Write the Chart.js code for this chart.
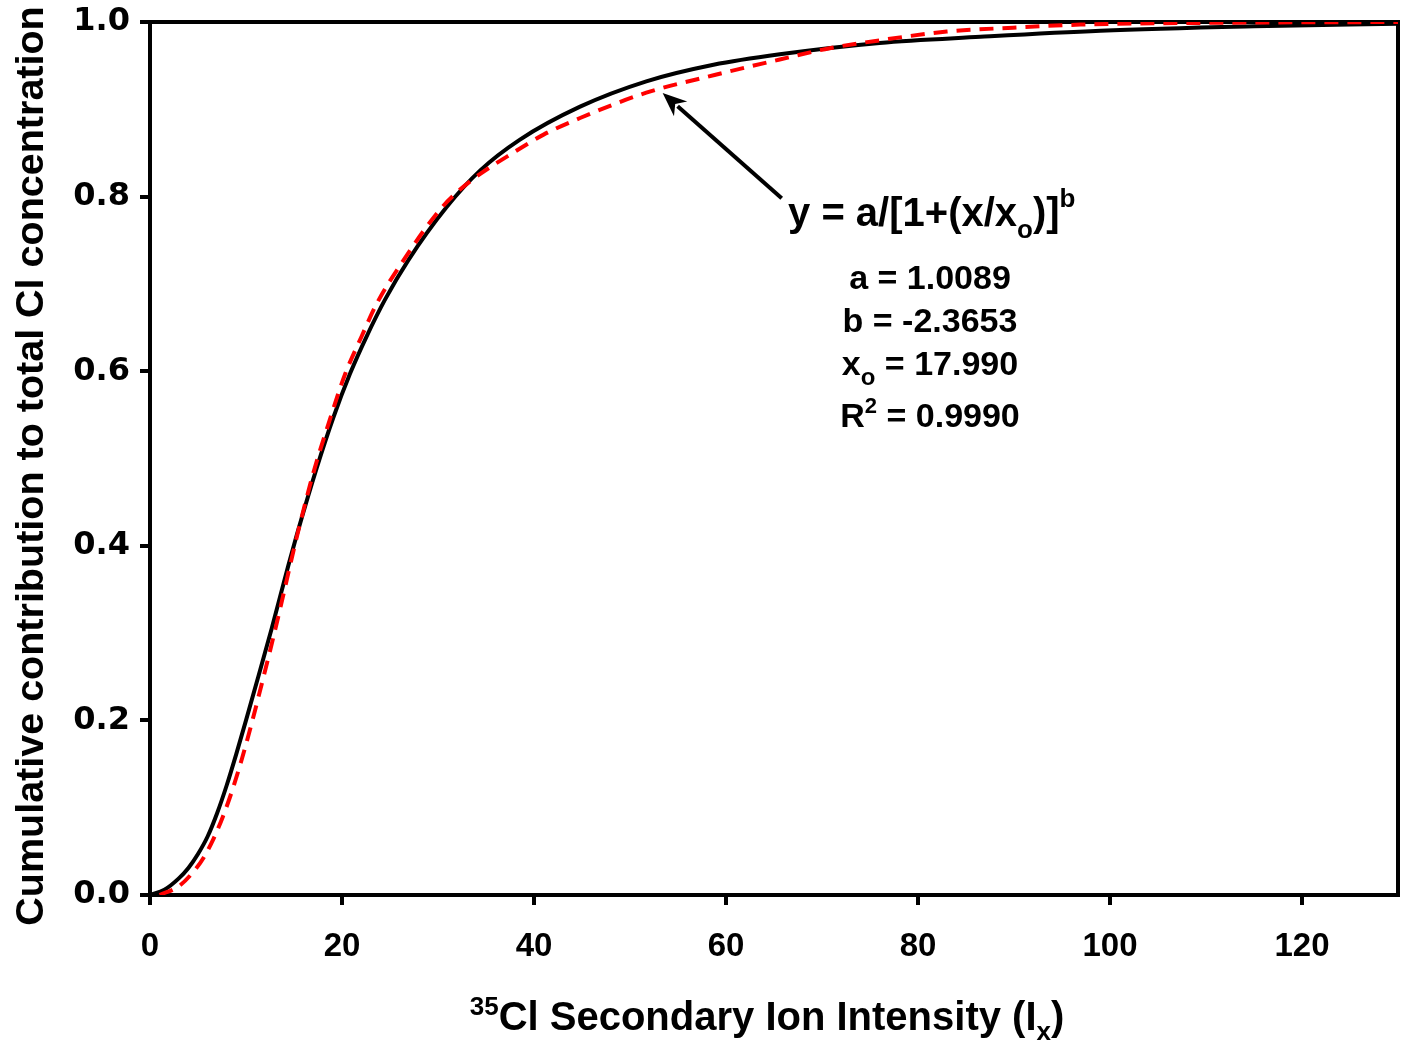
<!DOCTYPE html>
<html><head><meta charset="utf-8">
<script src="https://cdn.jsdelivr.net/npm/chart.js@4.4.1/dist/chart.umd.min.js"></script>
<style>html,body{margin:0;padding:0;background:#fff;}#wrap{width:1404px;height:1042px;}</style>
</head><body><div id="wrap"><canvas id="c" width="1404" height="1042"></canvas></div>
<script>
// Black solid curve (fitted)
const fitX = [0, 1.5, 3.0, 4.0, 5.0, 6.0, 7.0, 8.0, 9.0, 10.0, 11.28, 12.67, 14.4, 15.28, 17.36, 19.1, 20.83, 22.57, 24.48, 26.9, 30.9, 34.4, 38.5, 44.8, 51.7, 58.7, 65.6, 76.0, 86.5, 99, 115, 130];
const fitY = [0, 0.006, 0.019, 0.031, 0.047, 0.067, 0.094, 0.126, 0.162, 0.200, 0.250, 0.305, 0.377, 0.412, 0.489, 0.547, 0.597, 0.640, 0.682, 0.727, 0.788, 0.830, 0.865, 0.903, 0.932, 0.951, 0.963, 0.976, 0.983, 0.990, 0.995, 0.998];
// Red dashed curve
const dataX = [1.0, 3.0, 4.7, 5.6, 6.6, 7.6, 8.6, 9.6, 10.6, 11.6, 12.6, 13.6, 14.6, 15.6, 17.0, 18.6, 20.3, 22.05, 23.6, 26.4, 30.2, 32.3, 34.4, 37.8, 41.0, 44.8, 51.7, 58.7, 65.6, 70.8, 76.0, 83, 89.9, 96.9, 110, 130];
const dataY = [0.0, 0.010, 0.029, 0.043, 0.064, 0.090, 0.121, 0.157, 0.197, 0.240, 0.284, 0.330, 0.378, 0.424, 0.483, 0.540, 0.596, 0.640, 0.677, 0.727, 0.785, 0.808, 0.826, 0.850, 0.871, 0.890, 0.919, 0.939, 0.957, 0.970, 0.979, 0.989, 0.9935, 0.997, 0.999, 1.0];
const xTickValues = [0, 20, 40, 60, 80, 100, 120];
const xTickLabels = ['0', '20', '40', '60', '80', '100', '120'];
const yTickValues = [0, 0.2, 0.4, 0.6, 0.8, 1.0];
const yTickLabels = ['0.0', '0.2', '0.4', '0.6', '0.8', '1.0'];
const fitParams = ['a = 1.0089', 'b = -2.3653', '17.990', '0.9990'];

const F = "'Liberation Sans', Arial, sans-serif";
function rich(ctx, segs, x, y, align) {
  let w = 0;
  for (const s of segs) { ctx.font = 'bold ' + s.size + 'px ' + F; s.w = ctx.measureText(s.t).width; w += s.w; }
  let cx = align === 'center' ? x - w / 2 : x;
  ctx.textBaseline = 'alphabetic'; ctx.textAlign = 'left'; ctx.fillStyle = '#000';
  for (const s of segs) { ctx.font = 'bold ' + s.size + 'px ' + F; ctx.fillText(s.t, cx, y + (s.dy || 0)); cx += s.w; }
}

const textPlugin = {
  id: 'texts',
  afterDraw(chart) {
    const ctx = chart.ctx, xs = chart.scales.x, ys = chart.scales.y;
    ctx.save();
    // Y title
    ctx.save();
    ctx.translate(43, 466);
    ctx.rotate(-Math.PI / 2);
    ctx.font = 'bold 39.5px ' + F; ctx.fillStyle = '#000';
    ctx.textAlign = 'center'; ctx.textBaseline = 'alphabetic';
    ctx.fillText('Cumulative contribution to total Cl concentration', 0, 0);
    ctx.restore();
    // X title
    rich(ctx, [
      { t: '35', size: 26, dy: -15 },
      { t: 'Cl Secondary Ion Intensity (I', size: 40 },
      { t: 'x', size: 26, dy: 10 },
      { t: ')', size: 40 }
    ], 767, 1030, 'center');
    // Arrow (annotation, in data coords)
    const tipX = xs.getPixelForValue(53.4), tipY = ys.getPixelForValue(0.9187);
    const tailX = xs.getPixelForValue(65.8), tailY = ys.getPixelForValue(0.798);
    const ang = Math.atan2(tipY - tailY, tipX - tailX);
    const L = 24, H = 10;
    ctx.strokeStyle = '#000'; ctx.lineWidth = 4; ctx.lineCap = 'butt';
    ctx.beginPath(); ctx.moveTo(tailX, tailY);
    ctx.lineTo(tipX - Math.cos(ang) * (L - 4), tipY - Math.sin(ang) * (L - 4)); ctx.stroke();
    ctx.fillStyle = '#000';
    ctx.beginPath();
    ctx.moveTo(tipX, tipY);
    ctx.lineTo(tipX - Math.cos(ang) * L + Math.sin(ang) * H, tipY - Math.sin(ang) * L - Math.cos(ang) * H);
    ctx.lineTo(tipX - Math.cos(ang) * L * 0.7, tipY - Math.sin(ang) * L * 0.7);
    ctx.lineTo(tipX - Math.cos(ang) * L - Math.sin(ang) * H, tipY - Math.sin(ang) * L + Math.cos(ang) * H);
    ctx.closePath(); ctx.fill();
    // Formula
    const fx = xs.getPixelForValue(66.46), fy = ys.getPixelForValue(0.7663);
    rich(ctx, [
      { t: 'y = a/[1+(x/x', size: 40 },
      { t: 'o', size: 26, dy: 12 },
      { t: ')]', size: 40 },
      { t: 'b', size: 26, dy: -19 }
    ], fx, fy, 'left');
    const cx = 930;
    rich(ctx, [{ t: fitParams[0], size: 34 }], cx, fy + 63, 'center');
    rich(ctx, [{ t: fitParams[1], size: 34 }], cx, fy + 106, 'center');
    rich(ctx, [{ t: 'x', size: 34 }, { t: 'o', size: 24, dy: 10 }, { t: ' = ' + fitParams[2], size: 34 }], cx, fy + 149, 'center');
    rich(ctx, [{ t: 'R', size: 34 }, { t: '2', size: 22, dy: -14 }, { t: ' = ' + fitParams[3], size: 34 }], cx, fy + 201, 'center');
    ctx.restore();
  }
};

const mk = (xa, ya) => xa.map((v, i) => ({ x: v, y: ya[i] }));
const noPad = s => { s.paddingTop = 0; s.paddingBottom = 0; s.paddingLeft = 0; s.paddingRight = 0; };

new Chart(document.getElementById('c'), {
  type: 'line',
  data: {
    datasets: [
      { data: mk(dataX, dataY), borderColor: '#ff0000', borderWidth: 4, borderDash: [14, 9], pointRadius: 0, cubicInterpolationMode: 'monotone', fill: false },
      { data: mk(fitX, fitY), borderColor: '#000000', borderWidth: 4, pointRadius: 0, cubicInterpolationMode: 'monotone', fill: false }
    ]
  },
  options: {
    responsive: false, animation: false, devicePixelRatio: 1,
    layout: { padding: { left: 0, top: 22, right: 6, bottom: 0 } },
    plugins: { legend: { display: false }, tooltip: { enabled: false } },
    scales: {
      x: {
        type: 'linear', position: 'bottom', min: 0, max: 130,
        afterBuildTicks: s => { s.ticks = xTickValues.map(v => ({ value: v })); },
        afterFit: s => { s.height = 147; noPad(s); },
        ticks: { callback: (v) => xTickLabels[xTickValues.indexOf(v)], color: '#000', font: { family: F, weight: 'bold', size: 33 }, padding: 22, maxRotation: 0 },
        grid: { drawOnChartArea: false, drawTicks: true, tickLength: 10, color: '#000', lineWidth: 4 },
        border: { display: true, color: '#000', width: 4 }
      },
      y: {
        type: 'linear', position: 'left', min: 0, max: 1,
        afterBuildTicks: s => { s.ticks = yTickValues.map(v => ({ value: v })); },
        afterFit: s => { s.width = 150; noPad(s); },
        ticks: { callback: (v) => yTickLabels[yTickValues.findIndex(t => Math.abs(t - v) < 1e-9)], color: '#000', font: { family: "'DejaVu Sans', sans-serif", weight: 'bold', size: 32 }, padding: 10 },
        grid: { drawOnChartArea: false, drawTicks: true, tickLength: 10, color: '#000', lineWidth: 4 },
        border: { display: true, color: '#000', width: 4 }
      },
      x2: {
        type: 'linear', position: 'top', min: 0, max: 130,
        afterFit: s => { s.height = 0; noPad(s); },
        ticks: { display: false }, grid: { display: false },
        border: { display: true, color: '#000', width: 4 }
      },
      y2: {
        type: 'linear', position: 'right', min: 0, max: 1,
        afterFit: s => { s.width = 0; noPad(s); },
        ticks: { display: false }, grid: { display: false },
        border: { display: true, color: '#000', width: 4 }
      }
    }
  },
  plugins: [textPlugin]
});
</script></body></html>
